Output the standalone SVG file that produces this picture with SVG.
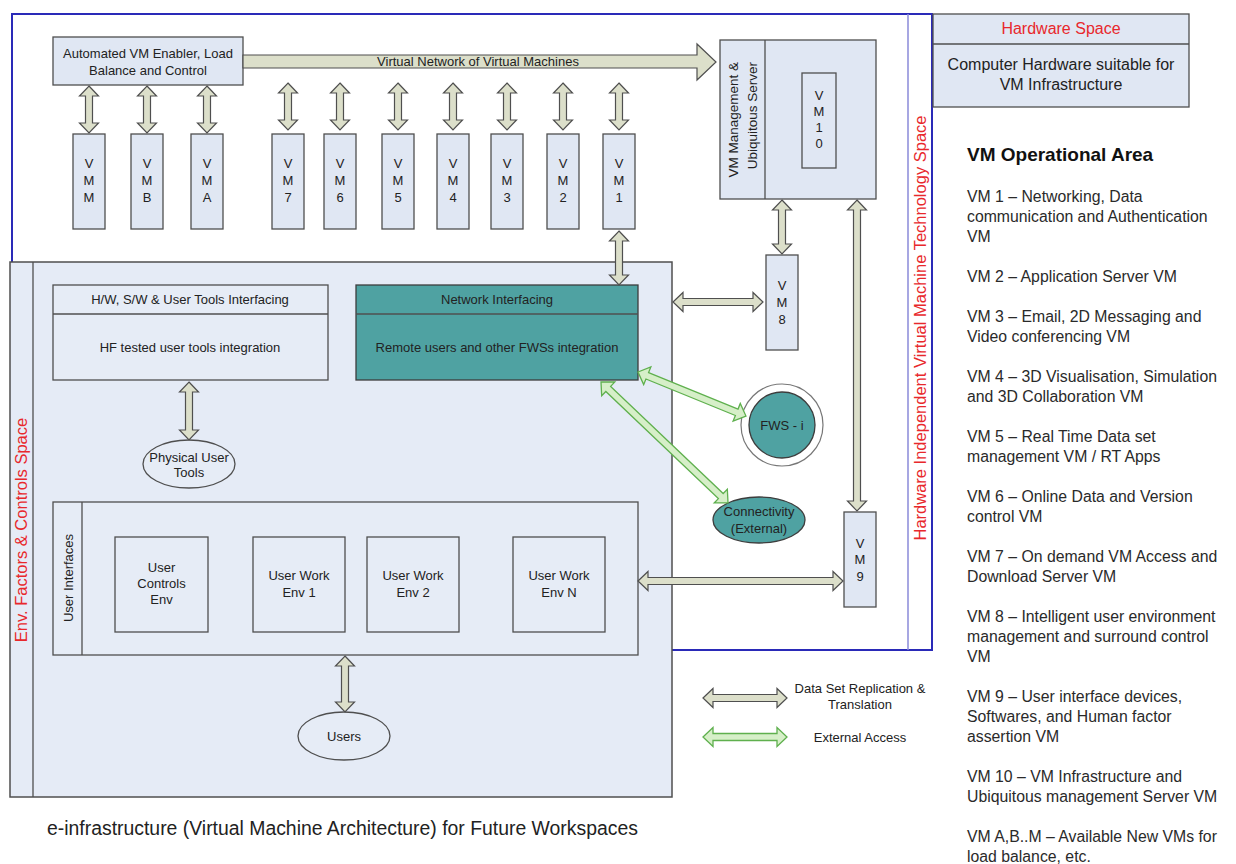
<svg xmlns="http://www.w3.org/2000/svg" width="1236" height="864" viewBox="0 0 1236 864">
<style>
.box{fill:#e0e7f3;stroke:#4f4f4f;stroke-width:1.3}
.env{fill:#e5ebf6;stroke:#4f4f4f;stroke-width:1.5}
.teal{fill:#4fa2a2;stroke:#3d3d3d;stroke-width:1.3}
.ln{stroke:#4f4f4f;stroke-width:1.3;fill:none}
.t{font-family:"Liberation Sans",Arial,sans-serif;font-size:13px;fill:#222;text-anchor:middle}
.red{fill:#e8282c}
.list{font-family:"Liberation Sans",Arial,sans-serif;font-size:15.8px;fill:#2a2a2a}
.arr{fill:#dcdfca;stroke:#4f4f4f;stroke-width:1.2}
.garr{fill:#d6efc8;stroke:#5fb04e;stroke-width:1.3}
</style>

<!-- containers -->
<g id="vm-tech-space">
<rect x="12" y="14" width="920" height="636" fill="none" stroke="#2a2ab8" stroke-width="2"/>
<line x1="908" y1="14" x2="908" y2="650" stroke="#8a8ad8" stroke-width="1.5"/>
<text class="t red" style="font-size:16.5px" transform="translate(926,328) rotate(-90)">Hardware Independent Virtual Machine Technology Space</text>
</g>

<g id="hardware-space">
<rect x="933" y="14" width="256" height="93" class="box"/>
<line x1="933" y1="44" x2="1189" y2="44" class="ln"/>
<text class="t red" style="font-size:16px" x="1061" y="34">Hardware Space</text>
<text class="t" style="font-size:16px" x="1061" y="70">Computer Hardware suitable for</text>
<text class="t" style="font-size:16px" x="1061" y="90">VM Infrastructure</text>
</g>

<g id="env-space">
<rect x="10" y="262" width="662" height="535" class="env"/>
<line x1="33" y1="262" x2="33" y2="797" class="ln"/>
<text class="t red" style="font-size:16.5px" transform="translate(27,530) rotate(-90)">Env. Factors &amp; Controls Space</text>
</g>

<!-- top nodes -->
<g id="vm-enabler">
<rect x="53" y="37" width="190" height="48" class="box"/>
<text class="t" x="148" y="58">Automated VM Enabler, Load</text>
<text class="t" x="148" y="75">Balance and Control</text>
</g>

<g id="vm-m"><rect x="73" y="134" width="32" height="95" class="box"/><text class="t" x="89" y="168">V</text><text class="t" x="89" y="185">M</text><text class="t" x="89" y="202">M</text></g>
<g id="vm-b"><rect x="131" y="134" width="32" height="95" class="box"/><text class="t" x="147" y="168">V</text><text class="t" x="147" y="185">M</text><text class="t" x="147" y="202">B</text></g>
<g id="vm-a"><rect x="191" y="134" width="32" height="95" class="box"/><text class="t" x="207" y="168">V</text><text class="t" x="207" y="185">M</text><text class="t" x="207" y="202">A</text></g>
<g id="vm-7"><rect x="272" y="134" width="32" height="95" class="box"/><text class="t" x="288" y="168">V</text><text class="t" x="288" y="185">M</text><text class="t" x="288" y="202">7</text></g>
<g id="vm-6"><rect x="324" y="134" width="32" height="95" class="box"/><text class="t" x="340" y="168">V</text><text class="t" x="340" y="185">M</text><text class="t" x="340" y="202">6</text></g>
<g id="vm-5"><rect x="382" y="134" width="32" height="95" class="box"/><text class="t" x="398" y="168">V</text><text class="t" x="398" y="185">M</text><text class="t" x="398" y="202">5</text></g>
<g id="vm-4"><rect x="437" y="134" width="32" height="95" class="box"/><text class="t" x="453" y="168">V</text><text class="t" x="453" y="185">M</text><text class="t" x="453" y="202">4</text></g>
<g id="vm-3"><rect x="491" y="134" width="32" height="95" class="box"/><text class="t" x="507" y="168">V</text><text class="t" x="507" y="185">M</text><text class="t" x="507" y="202">3</text></g>
<g id="vm-2"><rect x="547" y="134" width="32" height="95" class="box"/><text class="t" x="563" y="168">V</text><text class="t" x="563" y="185">M</text><text class="t" x="563" y="202">2</text></g>
<g id="vm-1"><rect x="603" y="134" width="32" height="95" class="box"/><text class="t" x="619" y="168">V</text><text class="t" x="619" y="185">M</text><text class="t" x="619" y="202">1</text></g>

<g id="vm-server">
<rect x="720" y="40" width="156" height="159" class="box"/>
<line x1="765" y1="40" x2="765" y2="199" class="ln"/>
<text class="t" style="font-size:13.5px;text-anchor:end" transform="translate(738,62) rotate(-90)">VM Management &amp;</text>
<text class="t" style="font-size:13.5px;text-anchor:end" transform="translate(757,62) rotate(-90)">Ubiquitous Server</text>
</g>
<g id="vm-10"><rect x="802" y="73" width="34" height="95" class="box"/><text class="t" x="819" y="100">V</text><text class="t" x="819" y="116">M</text><text class="t" x="819" y="132">1</text><text class="t" x="819" y="148">0</text></g>
<g id="vm-8"><rect x="766" y="255" width="32" height="95" class="box"/><text class="t" x="782" y="290">V</text><text class="t" x="782" y="307">M</text><text class="t" x="782" y="324">8</text></g>
<g id="vm-9"><rect x="844" y="512" width="32" height="95" class="box"/><text class="t" x="860" y="548">V</text><text class="t" x="860" y="564">M</text><text class="t" x="860" y="581">9</text></g>

<!-- env nodes -->
<g id="hw-sw-interfacing">
<rect x="53" y="285" width="275" height="95" class="box" style="fill:#e6ecf6"/>
<line x1="53" y1="314" x2="328" y2="314" class="ln"/>
<text class="t" x="190" y="304">H/W, S/W &amp; User Tools Interfacing</text>
<text class="t" x="190" y="352">HF tested user tools integration</text>
</g>
<g id="network-interfacing">
<rect x="356" y="285" width="282" height="95" class="teal"/>
<line x1="356" y1="314" x2="638" y2="314" class="ln"/>
<text class="t" x="497" y="304">Network Interfacing</text>
<text class="t" x="497" y="352">Remote users and other FWSs integration</text>
</g>
<g id="physical-user-tools">
<ellipse cx="189" cy="464" rx="46" ry="24" class="box" style="fill:#e6ecf6"/>
<text class="t" x="189" y="462">Physical User</text>
<text class="t" x="189" y="477">Tools</text>
</g>
<g id="user-interfaces">
<rect x="53" y="502" width="585" height="153" class="box" style="fill:#e6ecf6"/>
<line x1="82" y1="502" x2="82" y2="655" class="ln"/>
<text class="t" transform="translate(72.5,578) rotate(-90)">User Interfaces</text>
</g>
<g id="user-controls-env"><rect x="115" y="537" width="93" height="95" class="box" style="fill:#e6ecf6"/><text class="t" x="161.5" y="572">User</text><text class="t" x="161.5" y="588">Controls</text><text class="t" x="161.5" y="604">Env</text></g>
<g id="user-work-env-1"><rect x="253" y="537" width="92" height="95" class="box" style="fill:#e6ecf6"/><text class="t" x="299" y="580">User Work</text><text class="t" x="299" y="597">Env 1</text></g>
<g id="user-work-env-2"><rect x="367" y="537" width="92" height="95" class="box" style="fill:#e6ecf6"/><text class="t" x="413" y="580">User Work</text><text class="t" x="413" y="597">Env 2</text></g>
<g id="user-work-env-n"><rect x="513" y="537" width="92" height="95" class="box" style="fill:#e6ecf6"/><text class="t" x="559" y="580">User Work</text><text class="t" x="559" y="597">Env N</text></g>
<g id="users">
<ellipse cx="344" cy="736" rx="46" ry="24" class="box" style="fill:#e6ecf6"/>
<text class="t" x="344" y="741">Users</text>
</g>

<g id="fws-i">
<circle cx="782" cy="425" r="41" fill="#fff" stroke="#777" stroke-width="1.2"/>
<circle cx="782" cy="425" r="33" class="teal"/>
<text class="t" x="782" y="430">FWS - i</text>
</g>
<g id="connectivity">
<ellipse cx="759" cy="520" rx="46" ry="23" class="teal"/>
<text class="t" x="759" y="516">Connectivity</text>
<text class="t" x="759" y="533">(External)</text>
</g>

<!-- connectors -->
<g id="connectors">
<path class="arr" d="M243,55 H697 V44 L716,62 L697,80 V68 H243 Z"/>
<text class="t" x="478" y="66">Virtual Network of Virtual Machines</text>

<path class="arr" d="M89,86 l9.5,10 h-6 V123 h6 l-9.5,10 l-9.5,-10 h6 V96 h-6 z"/>
<path class="arr" d="M147,86 l9.5,10 h-6 V123 h6 l-9.5,10 l-9.5,-10 h6 V96 h-6 z"/>
<path class="arr" d="M207,86 l9.5,10 h-6 V123 h6 l-9.5,10 l-9.5,-10 h6 V96 h-6 z"/>
<path class="arr" d="M288,83 l9.5,10 h-6 V120 h6 l-9.5,10 l-9.5,-10 h6 V93 h-6 z"/>
<path class="arr" d="M340,83 l9.5,10 h-6 V120 h6 l-9.5,10 l-9.5,-10 h6 V93 h-6 z"/>
<path class="arr" d="M398,83 l9.5,10 h-6 V120 h6 l-9.5,10 l-9.5,-10 h6 V93 h-6 z"/>
<path class="arr" d="M453,83 l9.5,10 h-6 V120 h6 l-9.5,10 l-9.5,-10 h6 V93 h-6 z"/>
<path class="arr" d="M507,83 l9.5,10 h-6 V120 h6 l-9.5,10 l-9.5,-10 h6 V93 h-6 z"/>
<path class="arr" d="M563,83 l9.5,10 h-6 V120 h6 l-9.5,10 l-9.5,-10 h6 V93 h-6 z"/>
<path class="arr" d="M619,83 l9.5,10 h-6 V120 h6 l-9.5,10 l-9.5,-10 h6 V93 h-6 z"/>

<path class="arr" d="M619,231 l9.5,10 h-6 V275 h6 l-9.5,10 l-9.5,-10 h6 V241 h-6 z"/>
<path class="arr" d="M782,200 l9.5,10 h-6 V244 h6 l-9.5,10 l-9.5,-10 h6 V210 h-6 z"/>
<path class="arr" d="M857,200 l9.5,10 h-6 V501 h6 l-9.5,10 l-9.5,-10 h6 V210 h-6 z"/>
<path class="arr" d="M189,382 l9.5,10 h-6 V430 h6 l-9.5,10 l-9.5,-10 h6 V392 h-6 z"/>
<path class="arr" d="M345,656 l9.5,10 h-6 V702 h6 l-9.5,10 l-9.5,-10 h6 V666 h-6 z"/>

<path class="arr" d="M673,302 l10,-9.5 v6 H753 v-6 l10,9.5 l-10,9.5 v-6 H683 v6 z"/>
<path class="arr" d="M638,581 l10,-9.5 v6 H833 v-6 l10,9.5 l-10,9.5 v-6 H648 v6 z"/>

<path class="garr" transform="translate(638,372) rotate(22.2)" d="M0,0 l10,-9.5 v6 H106.6 v-6 l10,9.5 l-10,9.5 v-6 H10 v6 z"/>
<path class="garr" transform="translate(601,382) rotate(43.6)" d="M0,0 l10,-9.5 v6 H165.4 v-6 l10,9.5 l-10,9.5 v-6 H10 v6 z"/>
</g>

<!-- legend -->
<g id="legend">
<path class="arr" d="M703,698 l10,-9.5 v6 H777 v-6 l10,9.5 l-10,9.5 v-6 H713 v6 z"/>
<text class="t" x="860" y="693">Data Set Replication &amp;</text>
<text class="t" x="860" y="709">Translation</text>
<path class="garr" d="M703,737 l10,-9.5 v6 H777 v-6 l10,9.5 l-10,9.5 v-6 H713 v6 z"/>
<text class="t" x="860" y="742">External Access</text>
</g>

<!-- operational area list -->
<g id="vm-operational-area" class="list">
<text x="967" y="161" style="font-size:19px;font-weight:bold;fill:#111">VM Operational Area</text>
<text x="967" y="202">VM 1 – Networking, Data</text>
<text x="967" y="222">communication and Authentication</text>
<text x="967" y="242">VM</text>
<text x="967" y="282">VM 2 – Application Server VM</text>
<text x="967" y="322">VM 3 – Email, 2D Messaging and</text>
<text x="967" y="342">Video conferencing VM</text>
<text x="967" y="382">VM 4 – 3D Visualisation, Simulation</text>
<text x="967" y="402">and 3D Collaboration VM</text>
<text x="967" y="442">VM 5 – Real Time Data set</text>
<text x="967" y="462">management VM / RT Apps</text>
<text x="967" y="502">VM 6 – Online Data and Version</text>
<text x="967" y="522">control VM</text>
<text x="967" y="562">VM 7 – On demand VM Access and</text>
<text x="967" y="582">Download Server VM</text>
<text x="967" y="622">VM 8 – Intelligent user environment</text>
<text x="967" y="642">management and surround control</text>
<text x="967" y="662">VM</text>
<text x="967" y="702">VM 9 – User interface devices,</text>
<text x="967" y="722">Softwares, and Human factor</text>
<text x="967" y="742">assertion VM</text>
<text x="967" y="782">VM 10 – VM Infrastructure and</text>
<text x="967" y="802">Ubiquitous management Server VM</text>
<text x="967" y="842">VM A,B..M – Available New VMs for</text>
<text x="967" y="862">load balance, etc.</text>
</g>

<text x="47" y="835" style="font-family:'Liberation Sans',Arial,sans-serif;font-size:19.4px;fill:#222">e-infrastructure (Virtual Machine Architecture) for Future Workspaces</text>
</svg>
